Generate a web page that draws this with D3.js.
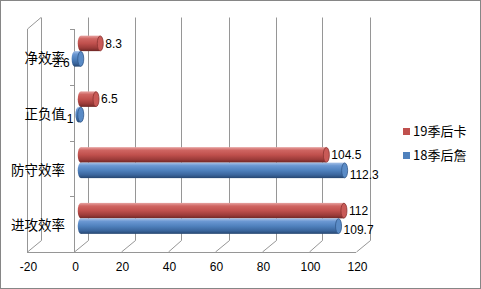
<!DOCTYPE html>
<html>
<head>
<meta charset="utf-8">
<script src="https://cdn.jsdelivr.net/npm/d3@7"></script>
<style>
  body { margin: 0; background: #fff; }
  text { font-family: "Liberation Sans", Arial, sans-serif; fill: #000; }
  .cjk { font-family: "Noto Sans CJK SC", sans-serif; }
</style>
</head>
<body>
<svg class="chart"></svg>
<script>
// chart values
var categories = ["净效率", "正负值", "防守效率", "进攻效率"];
var seriesNames = ["19季后卡", "18季后詹"];
var values19 = [8.3, 6.5, 104.5, 112];
var values18 = [-2.6, -1, 112.3, 109.7];
var tickValues = [-20, 0, 20, 40, 60, 80, 100, 120];

window.onload = function () {
    var width = 481, height = 289;
    var depthX = 13.5, depthY = -11.5; // offset from front plane to back wall

    var svg = d3.select("svg.chart").attr("width", width).attr("height", height);

    // gradients for the cylinder look
    var defs = svg.append("defs");
    var colours = [
        { id: "red", stops: ["#e7a3a1", "#cf6562", "#c0504d", "#9b3b39", "#6e2725"] },
        { id: "blue", stops: ["#a5c0e6", "#6a97d2", "#4f81bd", "#3a659c", "#264670"] }
    ];
    colours.forEach(function (c) {
        var g = defs.append("linearGradient").attr("id", "grad-" + c.id)
            .attr("x1", 0).attr("y1", 0).attr("x2", 0).attr("y2", 1);
        [0, 0.2, 0.5, 0.8, 1].forEach(function (o, i) {
            g.append("stop").attr("offset", o).attr("stop-color", c.stops[i]);
        });
    });
    var capColour = { red: "#c95a57", blue: "#5a8bc6" };
    var rimColour = { red: "#8a3331", blue: "#31588a" };

    // chart area border
    svg.append("rect").attr("x", 0.5).attr("y", 0.5)
        .attr("width", width - 1).attr("height", height - 1)
        .attr("fill", "#fff").attr("stroke", "#868686");

    var x = d3.scaleLinear().domain([-20, 120]).range([27, 356]); // front plane
    var y = d3.scaleBand().domain(categories).range([29, 252]);
    var ySeries = d3.scaleBand().domain(seriesNames).range([0, y.bandwidth()]).paddingOuter(0.8);

    var floorFront = 252, top = 29;
    var grid = svg.append("g").attr("stroke", "#969696").attr("stroke-width", 1).attr("fill", "none");

    // back wall gridlines and floor lines
    tickValues.forEach(function (t) {
        var xf = Math.round(x(t)) + 0.5, xb = Math.round(x(t) + depthX) + 0.5;
        grid.append("line").attr("x1", xb).attr("x2", xb)
            .attr("y1", top + depthY).attr("y2", floorFront + depthY);
        grid.append("line").attr("x1", xf).attr("x2", xb)
            .attr("y1", floorFront).attr("y2", floorFront + depthY);
    });
    // front floor edge
    grid.append("line").attr("x1", x(-20)).attr("x2", x(120))
        .attr("y1", floorFront + 0.5).attr("y2", floorFront + 0.5);
    // left side wall edges
    grid.append("line").attr("x1", x(-20) + 0.5).attr("x2", x(-20) + 0.5)
        .attr("y1", top).attr("y2", floorFront);
    grid.append("line").attr("x1", x(-20) + 0.5).attr("x2", x(-20) + depthX + 0.5)
        .attr("y1", top).attr("y2", top + depthY);
    // category axis with ticks
    grid.append("line").attr("x1", Math.round(x(0)) + 0.5).attr("x2", Math.round(x(0)) + 0.5)
        .attr("y1", top).attr("y2", floorFront);
    categories.concat([null]).forEach(function (c, i) {
        var yy = Math.round(top + i * y.step()) + 0.5;
        grid.append("line").attr("x1", x(0) - 4).attr("x2", x(0))
            .attr("y1", yy).attr("y2", yy);
    });

    // bars, drawn half way into the depth
    var bx = function (v) { return x(v) + depthX / 2; };
    var bars = [];
    categories.forEach(function (c, i) {
        bars.push({ cat: c, series: seriesNames[0], value: values19[i], colour: "red" });
        bars.push({ cat: c, series: seriesNames[1], value: values18[i], colour: "blue" });
    });
    var rx = 3;
    var barG = svg.append("g");
    bars.forEach(function (d) {
        var y0 = y(d.cat) + ySeries(d.series) + depthY / 2;
        var h = ySeries.bandwidth();
        var x0 = bx(0), x1 = bx(d.value);
        var left = Math.min(x0, x1), right = Math.max(x0, x1);
        var g = barG.append("g");
        g.append("ellipse").attr("cx", left).attr("cy", y0 + h / 2)
            .attr("rx", rx).attr("ry", h / 2).attr("fill", "url(#grad-" + d.colour + ")");
        g.append("rect").attr("x", left).attr("y", y0)
            .attr("width", right - left).attr("height", h)
            .attr("fill", "url(#grad-" + d.colour + ")");
        g.append("ellipse").attr("cx", right).attr("cy", y0 + h / 2)
            .attr("rx", rx).attr("ry", h / 2 - 0.3)
            .attr("fill", capColour[d.colour]).attr("stroke", rimColour[d.colour]).attr("stroke-width", 0.8);

        // data label
        var lx = d.value >= 0 ? right + rx + 2 : left - rx - 2;
        g.append("text").attr("x", lx).attr("y", y0 + h / 2 + (d.colour === "red" ? 0 : 4))
            .attr("dy", "0.35em").attr("font-size", 12)
            .attr("text-anchor", d.value >= 0 ? "start" : "end")
            .text(String(d.value));
    });

    // category labels
    svg.append("g").selectAll("text").data(categories).enter().append("text")
        .attr("class", "cjk").attr("x", 65)
        .attr("y", function (c) { return y(c) + y.bandwidth() / 2 + 1.5; })
        .attr("dy", "0.35em").attr("text-anchor", "end").attr("font-size", 13.5)
        .text(function (c) { return c; });

    // value axis tick labels
    var axis = d3.axisBottom(x).tickValues(tickValues).tickSize(0).tickPadding(0)
        .tickFormat(function (d) { return String(d); });
    var axisG = svg.append("g").attr("transform", "translate(1," + 262 + ")").call(axis);
    axisG.select(".domain").remove();
    axisG.selectAll("text").attr("font-size", 12).attr("font-family", "Liberation Sans, Arial, sans-serif")
        .attr("fill", "#000");

    // legend
    var legend = svg.append("g").selectAll("g").data(seriesNames).enter().append("g")
        .attr("transform", function (d, i) { return "translate(403," + (128 + i * 24) + ")"; });
    legend.append("rect").attr("width", 7).attr("height", 7)
        .attr("fill", function (d, i) { return i === 0 ? "#c0504d" : "#4f81bd"; });
    legend.append("text").attr("class", "cjk").attr("x", 10).attr("y", 3.5).attr("dy", "0.35em")
        .attr("font-size", 13).text(function (d) { return d; });
};
</script>
</body>
</html>
